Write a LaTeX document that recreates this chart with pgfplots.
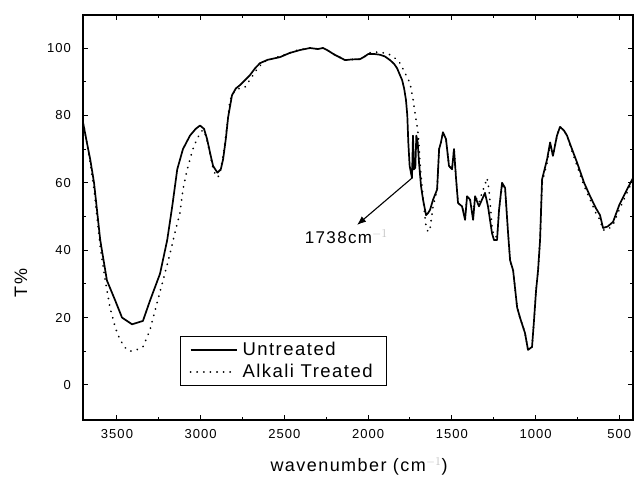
\documentclass[border=0pt]{standalone}
\usepackage{fontspec}
\setmainfont{Liberation Sans}[LetterSpace=8]
\usepackage{pgfplots}
\pgfplotsset{compat=1.18}
\usetikzlibrary{arrows.meta}

\pgfplotstableread{
wn T
3703 78
3680 72
3660 67
3637 60
3600 43
3560 31
3510 25
3470 20
3410 18
3345 19
3303 25
3243 33
3200 43
3170 53
3140 64
3106 70
3064 74
3030 76
3004 77
2980 76
2962 73
2940 68
2926 65
2900 63
2880 64
2866 67
2850 73
2836 79.5
2813 86
2790 88
2765 89
2735 90.5
2705 92
2675 94
2646 95.5
2600 96.5
2526 97.3
2470 98.5
2407 99.4
2347 100
2300 99.7
2270 100
2245 99.4
2200 98
2160 97
2138 96.4
2100 96.6
2048 96.7
2020 97.5
2000 98.2
1960 98.2
1929 98
1900 97.5
1869 96.4
1845 95.3
1827 94
1810 92
1797 90.5
1785 88
1774 84.6
1766 80
1760 72
1752 65
1738 61.4
1732 74
1726 64
1718 64.5
1712 74
1704 72
1696 66
1684 59
1672 55
1654 50.4
1642 51
1630 52
1612 55
1588 58
1576 70
1565 72
1553 75
1535 73
1517 65
1499 64
1487 70
1475 61.4
1463 54
1439 53
1421 49
1409 56
1391 55
1373 49
1361 56
1338 53
1320 55
1302 57
1284 53
1260 45
1248 43
1230 43
1218 52
1200 60
1182 58.5
1164 45
1152 37
1134 34
1110 23
1093 20
1063 15.4
1045 10.4
1021 11.3
1009 19.3
997 28
985 34
973 43
961 61
931 67
913 72
896 68
872 74
854 76.6
830 75.5
812 74
790 71
752 66
710 60
674 56
640 52.5
615 50.4
597 46.6
570 47
537 48.4
500 53.4
454 58
418 61.4
}\untreated

\pgfplotstableread{
wn T
3703 78
3680 72
3660 66
3637 58
3600 41
3570 31
3542 23
3510 17
3482 13.4
3450 11
3422 10
3380 10.5
3345 11.3
3303 16.3
3261 24.3
3225 31
3183 39
3150 46
3124 51
3106 58
3085 63
3064 67
3043 70.5
3022 73
3000 75
2986 75.7
2970 74
2950 70
2930 65
2910 62
2896 61.7
2880 64
2860 70
2840 78
2825 84.6
2800 87
2770 88
2735 88.4
2700 91
2660 94
2620 96
2560 97
2500 98
2420 99.4
2347 100
2300 99.7
2270 100
2245 99.4
2200 98
2160 97
2138 96.4
2100 96.6
2048 96.7
2020 97.5
2000 98.5
1960 98.8
1929 98.7
1900 98.5
1869 98
1840 97
1809 95.5
1780 92.6
1750 89.6
1731 84.6
1720 80.7
1708 77
1700 74
1690 66
1680 60
1665 52
1654 47
1642 45.4
1630 46.5
1612 53
1588 58
1576 70
1565 72
1553 75
1535 73
1517 65
1499 64
1487 70
1475 61.4
1463 54
1439 53
1421 50
1409 56
1391 55
1373 50
1361 56
1338 54
1320 57
1302 59.4
1290 61.4
1278 58
1260 47
1248 44
1230 44
1218 52
1200 59
1182 58.5
1164 45
1152 37
1134 34
1110 23
1093 20
1063 15.4
1045 10.4
1021 11.3
1009 19.3
997 28
985 34
973 43
961 60
931 66
913 71
896 68
872 74
854 76.6
830 75.5
812 74
790 70.5
752 65
710 59
674 55
640 51
615 49
597 46
570 46
537 47.5
500 52
454 57
418 61
}\alkali

\begin{document}
\begin{tikzpicture}
\useasboundingbox (-83pt,-58pt) rectangle (552pt,420pt);
\begin{axis}[
  scale only axis,
  width=550pt, height=405pt,
  x dir=reverse,
  xmin=418, xmax=3703,
  ymin=-10.4, ymax=109.8,
  xtick={500,1000,...,3500},
  ytick={0,20,...,100},
  minor x tick num=1,
  minor y tick num=1,
  tick pos=both,
  tick align=inside,
  major tick length=5pt,
  minor tick length=3pt,
  axis line style={line width=1.4pt},
  every tick/.style={line width=1pt, black},
  /pgf/number format/assume math mode=true,
  /pgf/number format/1000 sep={},
  ticklabel style={font=\fontsize{13}{15}\selectfont},
  yticklabel style={xshift=-8.5pt},
  xticklabel style={yshift=-5.5pt},
  xlabel={wavenumber (cm\textcolor{black!25}{$^{-1}$})},
  ylabel={T\%},
  every axis x label/.style={at={(axis description cs:0.502,-0.114)},anchor=center,font=\fontsize{18}{21}\selectfont},
  every axis y label/.style={at={(axis description cs:-0.113,0.338)},anchor=center,rotate=90,font=\fontsize{18}{21}\selectfont},
  legend style={at={(rel axis cs:0.1764,0.084)}, anchor=south west,
    draw=black, line width=1.2pt, font=\fontsize{18.5}{21}\selectfont,
    inner xsep=9pt, inner ysep=4pt, row sep=3pt,
    nodes={inner xsep=5pt}},
  legend cell align=left,
  legend image code/.code={\draw[#1] (0pt,0pt) -- (46pt,0pt);},
]
\addplot[black, line width=1.7pt, line join=round] table[x=wn,y=T]{\untreated};
\addlegendentry{Untreated}
\addplot[black, line width=1.9pt, line cap=round, dash pattern=on 0.1pt off 6.5pt] table[x=wn,y=T]{\alkali};
\addlegendentry{Alkali Treated}
\draw[-{Latex[length=9pt,width=7pt]}, line width=1.1pt] (axis cs:1738,61.4) -- (axis cs:2066,47.5);
\node[font=\fontsize{17}{20}\selectfont, anchor=center] at (axis cs:2130,43.9) {1738cm\textcolor{black!25}{$^{-1}$}};
\end{axis}
\end{tikzpicture}
\end{document}
